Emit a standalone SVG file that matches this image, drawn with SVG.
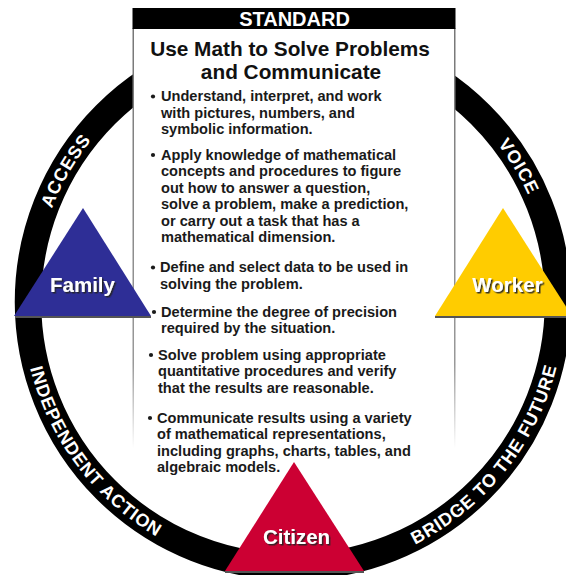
<svg xmlns="http://www.w3.org/2000/svg" width="566" height="575" viewBox="0 0 566 575">
<style>
.ring{fill:none;stroke:#000;stroke-width:26.5}
.ringtxt{font-family:"Liberation Sans",Arial,sans-serif;font-weight:bold;font-size:18px;fill:#fff;letter-spacing:0.8px}
.hdr{font-family:"Liberation Sans",Arial,sans-serif;font-weight:bold;font-size:20px;fill:#fff}
.title{font-family:"Liberation Sans",Arial,sans-serif;font-weight:bold;font-size:20.8px;fill:#111}
.b{font-family:"Liberation Sans",Arial,sans-serif;font-weight:bold;font-size:14.6px;fill:#1a1a1a}
.dot{fill:#1a1a1a}
.lbl{font-family:"Liberation Sans",Arial,sans-serif;font-weight:bold;font-size:20.5px;fill:#fff;filter:url(#sh)}
.base{stroke:#555;stroke-width:2}
</style>
<defs>
<filter id="sh" x="-20%" y="-30%" width="140%" height="160%">
<feDropShadow dx="1.5" dy="1.5" stdDeviation="0.6" flood-color="#222" flood-opacity="0.9"/>
</filter>
<linearGradient id="fade" x1="0" y1="0" x2="0" y2="1">
<stop offset="0" stop-color="#777"/>
<stop offset="0.8" stop-color="#999"/>
<stop offset="1" stop-color="#fff"/>
</linearGradient>
<path id="pAccess" d="M 38.4 346.9 A 258.5 258.5 0 0 1 204.6 59.1"/>
<path id="pVoice" d="M 377.2 57.6 A 258.5 258.5 0 0 1 548.3 342.4"/>
<path id="pIndep" d="M 27.0 250.3 A 271.5 271.5 0 0 0 269.3 572.5"/>
<path id="pBridge" d="M 307.2 573.1 A 271.5 271.5 0 0 0 560.4 254.9"/>
</defs>
<rect width="566" height="575" fill="#fff"/>

<g id="ring">
<circle class="ring" cx="293" cy="302" r="265"/>
<text class="ringtxt" letter-spacing="1.2"><textPath href="#pAccess" startOffset="50%" text-anchor="middle">ACCESS</textPath></text>
<text class="ringtxt" letter-spacing="1.2"><textPath href="#pVoice" startOffset="50%" text-anchor="middle">VOICE</textPath></text>
<text class="ringtxt"><textPath href="#pIndep" startOffset="50%" text-anchor="middle">INDEPENDENT ACTION</textPath></text>
<text class="ringtxt"><textPath href="#pBridge" startOffset="50%" text-anchor="middle">BRIDGE TO THE FUTURE</textPath></text>
</g>

<g id="standard">
<rect x="133" y="8" width="322" height="440" fill="#fff"/>
<rect x="132.5" y="28" width="1.5" height="420" fill="url(#fade)"/>
<rect x="454" y="28" width="1.5" height="420" fill="url(#fade)"/>
<rect x="132.5" y="8" width="323" height="21" fill="#000"/>
<text class="hdr" x="294.5" y="26" text-anchor="middle">STANDARD</text>
<text class="title" x="290" y="56" text-anchor="middle">Use Math to Solve Problems</text>
<text class="title" x="291" y="79" text-anchor="middle">and Communicate</text>

<circle class="dot" cx="153" cy="96.5" r="2.1"/>
<text class="b" x="161" y="101">Understand, interpret, and work</text>
<text class="b" x="161" y="117.5">with pictures, numbers, and</text>
<text class="b" x="161" y="134">symbolic information.</text>

<circle class="dot" cx="153" cy="155" r="2.1"/>
<text class="b" x="161" y="159.5">Apply knowledge of mathematical</text>
<text class="b" x="161" y="176">concepts and procedures to figure</text>
<text class="b" x="161" y="192.5">out how to answer a question,</text>
<text class="b" x="161" y="209">solve a problem, make a prediction,</text>
<text class="b" x="161" y="225.5">or carry out a task that has a</text>
<text class="b" x="161" y="242">mathematical dimension.</text>

<circle class="dot" cx="153" cy="267.5" r="2.1"/>
<text class="b" x="160" y="272">Define and select data to be used in</text>
<text class="b" x="160" y="288.5">solving the problem.</text>

<circle class="dot" cx="154" cy="312" r="2.1"/>
<text class="b" x="161" y="316.5">Determine the degree of precision</text>
<text class="b" x="161" y="333">required by the situation.</text>

<circle class="dot" cx="151" cy="355" r="2.1"/>
<text class="b" x="158" y="359.5">Solve problem using appropriate</text>
<text class="b" x="158" y="376">quantitative procedures and verify</text>
<text class="b" x="158" y="392.5">that the results are reasonable.</text>

<circle class="dot" cx="150" cy="418" r="2.1"/>
<text class="b" x="157" y="422.5">Communicate results using a variety</text>
<text class="b" x="157" y="439">of mathematical representations,</text>
<text class="b" x="157" y="455.5">including graphs, charts, tables, and</text>
<text class="b" x="157" y="472">algebraic models.</text>
</g>

<g id="family">
<line class="base" x1="15" y1="317" x2="151" y2="317"/>
<polygon points="83,208 14,316 151,316" fill="#2e2e96"/>
<text class="lbl" x="82.5" y="292" text-anchor="middle">Family</text>
</g>

<g id="worker">
<line class="base" x1="435" y1="317" x2="572" y2="317"/>
<polygon points="503,208 435,316 572,316" fill="#ffcc00"/>
<text class="lbl" x="507.5" y="292" text-anchor="middle">Worker</text>
</g>

<g id="citizen">
<line class="base" x1="225" y1="572" x2="364" y2="572"/>
<polygon points="294,462 225,571 364,571" fill="#cc0033"/>
<text class="lbl" x="296.5" y="544" text-anchor="middle">Citizen</text>
</g>

<g id="connectors"></g>
</svg>
